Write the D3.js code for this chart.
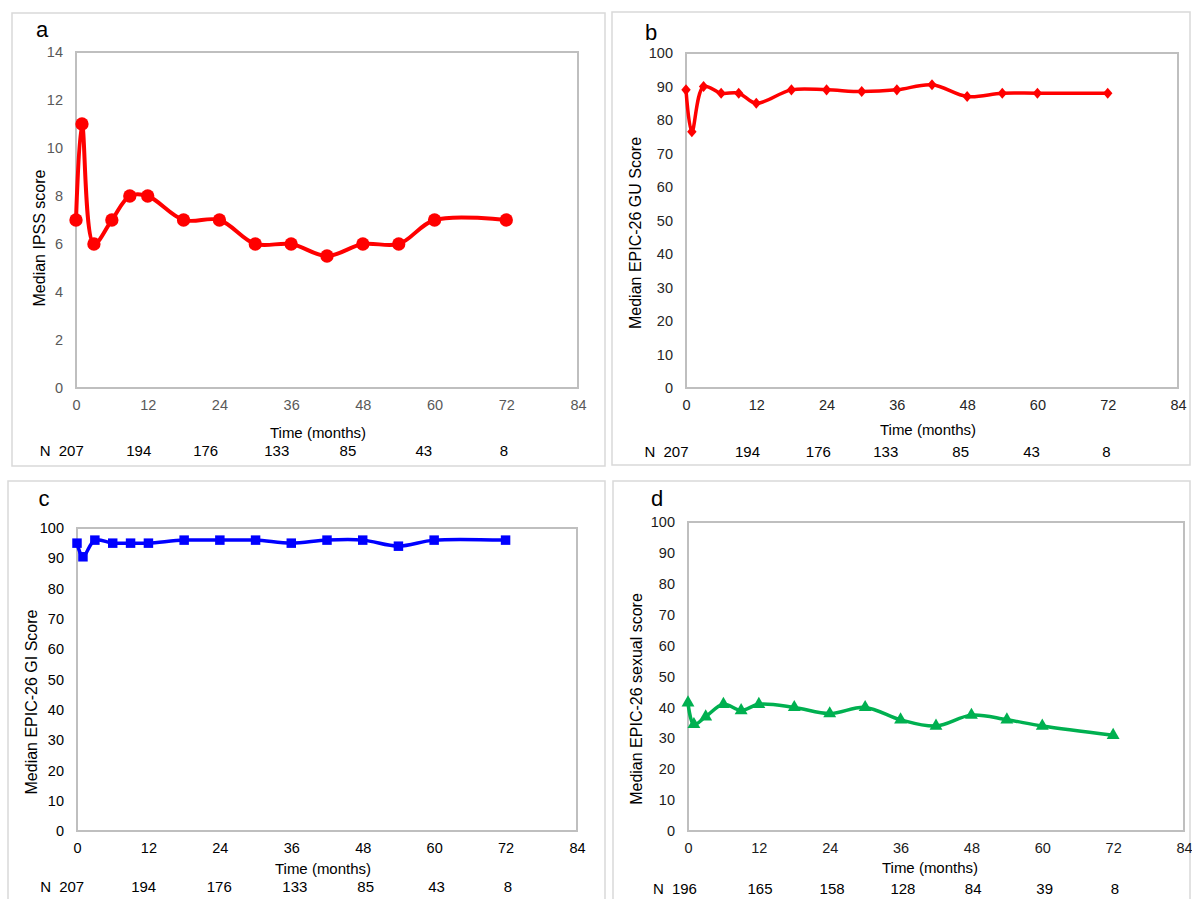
<!DOCTYPE html>
<html>
<head>
<meta charset="utf-8">
<script src="https://cdn.jsdelivr.net/npm/d3@7"></script>
<style>
  html, body { margin: 0; padding: 0; background: #fff; }
  svg { display: block; font-family: "Liberation Sans", Arial, sans-serif; }
</style>
</head>
<body>
<svg id="fig" width="1192" height="899"></svg>
<script>
// follow-up times (months)
var months = [0, 1, 3, 6, 9, 12, 18, 24, 30, 36, 42, 48, 54, 60, 72];

// medians
var ipss = [7, 11, 6, 7, 8, 8, 7, 7, 6, 6, 5.5, 6, 6, 7, 7];
var guScore = [89, 76.5, 90, 88, 88, 85, 89, 89, 88.5, 89, 90.5, 87, 88, 88, 88];
var giScore = [95, 90.5, 96, 95, 95, 95, 96, 96, 96, 95, 96, 96, 94, 96, 96];
var sexualScore = [41.5, 34.5, 37, 41, 39, 41, 40, 38, 40, 36, 34, 37.5, 36, 34, 31];

var xTicks = [0, 12, 24, 36, 48, 60, 72, 84];

// numbers at risk and where they sit under the time axis (in months)
var nEpic = [207, 194, 176, 133, 85, 43, 8];
var nSexual = [196, 165, 158, 128, 84, 39, 8];
var nPosA = [-0.8, 10.5, 21.7, 33.6, 45.5, 58.2, 71.6];
var nPosB = [-1.7, 10.5, 22.6, 34.1, 46.9, 59.0, 71.8];
var nPosC = [-0.9, 11.2, 23.9, 36.6, 48.5, 60.4, 72.4];
var nPosD = [-0.6, 12.2, 24.4, 36.4, 48.3, 60.4, 72.3];

var svg = d3.select("#fig");

// diamond marker, a bit wider than d3's own
var diamondWide = {
  draw: function (ctx, size) {
    var h = Math.sqrt(size) * 0.6, w = h * 0.85;
    ctx.moveTo(0, -h); ctx.lineTo(w, 0); ctx.lineTo(0, h); ctx.lineTo(-w, 0); ctx.closePath();
  }
};

function drawPanel(p) {
  // outer panel border
  svg.append("rect")
    .attr("x", p.box[0]).attr("y", p.box[1])
    .attr("width", p.box[2] - p.box[0]).attr("height", p.box[3] - p.box[1])
    .attr("fill", "none").attr("stroke", "#d9d9d9").attr("stroke-width", 1.5);

  var x = d3.scaleLinear().domain([0, 84]).range([p.plot[0], p.plot[2]]);
  var y = d3.scaleLinear().domain([0, p.yMax]).range([p.plot[3], p.plot[1]]);

  var g = svg.append("g");

  g.append("rect")
    .attr("x", x(0)).attr("y", y(p.yMax))
    .attr("width", x(84) - x(0)).attr("height", y(0) - y(p.yMax))
    .attr("fill", "none").attr("stroke", "#bfbfbf").attr("stroke-width", 2);

  var yAxis = d3.axisLeft(y).tickValues(d3.range(0, p.yMax + 0.1, p.yStep))
    .tickSize(0).tickPadding(13);
  g.append("g").attr("transform", "translate(" + x(0) + ",0)").call(yAxis)
    .call(function (s) { s.select(".domain").remove(); })
    .selectAll("text")
    .attr("fill", p.tickColor).style("font-size", "14.5px");

  var xAxis = d3.axisBottom(x).tickValues(xTicks).tickSize(0).tickPadding(12);
  g.append("g").attr("transform", "translate(0," + y(0) + ")").call(xAxis)
    .call(function (s) { s.select(".domain").remove(); })
    .selectAll("text")
    .attr("fill", p.tickColor).style("font-size", "14.5px");

  // panel letter
  svg.append("text").attr("x", p.letterPos[0]).attr("y", p.letterPos[1])
    .attr("text-anchor", "middle").style("font-size", "22px").attr("fill", "#000")
    .text(p.letter);

  // y title
  svg.append("text")
    .attr("transform", "translate(" + p.yTitlePos[0] + "," + p.yTitlePos[1] + ") rotate(-90)")
    .attr("text-anchor", "middle").attr("dy", "0.35em")
    .style("font-size", "16px").attr("fill", "#000")
    .text(p.yTitle);

  // x title
  svg.append("text").attr("x", p.xTitlePos[0]).attr("y", p.xTitlePos[1])
    .attr("text-anchor", "middle").attr("dy", "0.35em")
    .style("font-size", "15px").attr("fill", "#000")
    .text("Time (months)");

  // numbers at risk
  svg.append("text").attr("x", x(p.nPos[0]) - 26).attr("y", p.nY)
    .attr("text-anchor", "middle").attr("dy", "0.35em")
    .style("font-size", "15px").text("N");
  svg.selectAll(null).data(p.nVals).enter().append("text")
    .attr("x", function (d, i) { return x(p.nPos[i]); })
    .attr("y", p.nY)
    .attr("text-anchor", "middle").attr("dy", "0.35em")
    .style("font-size", "15px").attr("fill", "#000")
    .text(function (d) { return d; });

  var pts = months.map(function (m, i) { return [m, p.values[i]]; });

  g.append("path")
    .datum(pts)
    .attr("fill", "none")
    .attr("stroke", p.color)
    .attr("stroke-width", p.lineWidth)
    .attr("stroke-linejoin", "round")
    .attr("d", d3.line()
      .curve(d3.curveCatmullRom.alpha(0.5))
      .x(function (d) { return x(d[0]); })
      .y(function (d) { return y(d[1]); }));

  g.selectAll(".mk")
    .data(pts)
    .enter()
    .append("path")
    .attr("transform", function (d) { return "translate(" + x(d[0]) + "," + y(d[1]) + ")"; })
    .attr("d", d3.symbol().type(p.symbol).size(p.symbolSize))
    .attr("fill", p.color);
}

drawPanel({
  letter: "a", letterPos: [42, 37],
  box: [12, 13, 605, 466], plot: [76, 52, 578, 388],
  yMax: 14, yStep: 2, tickColor: "#595959",
  yTitle: "Median IPSS score", yTitlePos: [39, 238],
  xTitlePos: [318, 433], nY: 451, nVals: nEpic, nPos: nPosA,
  values: ipss, color: "#ff0000", lineWidth: 4,
  symbol: d3.symbolCircle, symbolSize: 140
});

drawPanel({
  letter: "b", letterPos: [651, 40],
  box: [612, 12, 1190, 465], plot: [686, 53, 1178, 388],
  yMax: 100, yStep: 10, tickColor: "#262626",
  yTitle: "Median EPIC-26 GU Score", yTitlePos: [635, 233],
  xTitlePos: [928, 430], nY: 452, nVals: nEpic, nPos: nPosB,
  values: guScore, color: "#ff0000", lineWidth: 3.5,
  symbol: diamondWide, symbolSize: 85
});

drawPanel({
  letter: "c", letterPos: [44, 506],
  box: [8, 481, 605, 905], plot: [77, 528, 577, 831],
  yMax: 100, yStep: 10, tickColor: "#000",
  yTitle: "Median EPIC-26 GI Score", yTitlePos: [31, 702],
  xTitlePos: [323, 869], nY: 887, nVals: nEpic, nPos: nPosC,
  values: giScore, color: "#0000ff", lineWidth: 3.5,
  symbol: d3.symbolSquare, symbolSize: 90
});

drawPanel({
  letter: "d", letterPos: [657, 506],
  box: [613, 481, 1190, 905], plot: [688, 522, 1184, 831],
  yMax: 100, yStep: 10, tickColor: "#1a1a1a",
  yTitle: "Median EPIC-26 sexual score", yTitlePos: [636, 699],
  xTitlePos: [930, 868], nY: 889, nVals: nSexual, nPos: nPosD,
  values: sexualScore, color: "#00b050", lineWidth: 3.5,
  symbol: d3.symbolTriangle, symbolSize: 72
});
</script>
</body>
</html>
